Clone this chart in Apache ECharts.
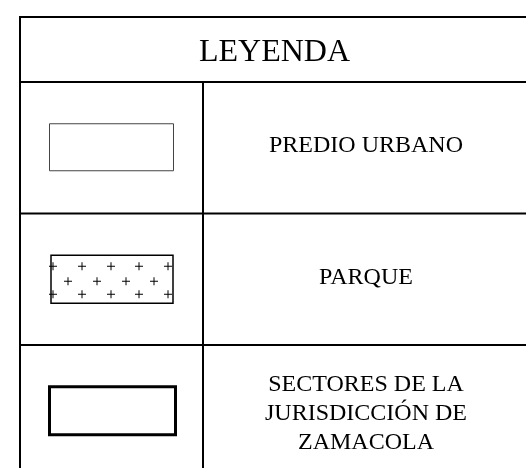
<!DOCTYPE html>
<html>
<head>
<meta charset="utf-8">
<script src="https://cdn.jsdelivr.net/npm/echarts@6/dist/echarts.min.js"></script>
<style>html,body{margin:0;padding:0;background:#fff;}#c{width:526px;height:468px;}</style>
</head>
<body>
<div id="c"></div>
<script>
var legendTitle = 'LEYENDA';
var itemLabels = ['PREDIO URBANO', 'PARQUE', 'SECTORES DE LA\nJURISDICCIÓN DE\nZAMACOLA'];
var itemSymbols = ['thin', 'crosses', 'bold'];

var chart = echarts.init(document.getElementById('c'), null, {renderer: 'canvas'});
var L = 20, R = 529, T = 17, HB = 82, RH = 131.5, DX = 203;
var FONT = '"Liberation Serif", "Times New Roman", serif';
var els = [];
var nRows = itemLabels.length;
var bottom = HB + RH * nRows;
els.push({type: 'rect', shape: {x: L, y: T, width: R - L, height: bottom - T}, style: {fill: '#fff', stroke: '#000', lineWidth: 2}});
els.push({type: 'line', shape: {x1: L, y1: HB, x2: R, y2: HB}, style: {stroke: '#000', lineWidth: 2}});
els.push({type: 'line', shape: {x1: DX, y1: HB, x2: DX, y2: bottom}, style: {stroke: '#000', lineWidth: 2}});
els.push({type: 'text', x: (L + R) / 2, y: (T + HB) / 2 + 3, style: {text: legendTitle, font: '32px ' + FONT, fill: '#000', align: 'center', verticalAlign: 'middle'}});
itemLabels.forEach(function (lab, i) {
  var top = HB + RH * i;
  var cy = top + RH / 2;
  if (i > 0) els.push({type: 'line', shape: {x1: L, y1: top, x2: R, y2: top}, style: {stroke: '#000', lineWidth: 2}});
  var multi = lab.indexOf('\n') >= 0;
  els.push({type: 'text', x: (DX + R) / 2, y: multi ? cy + 3 : cy - 2, style: {text: lab, font: '24px ' + FONT, lineHeight: 29, fill: '#000', align: 'center', verticalAlign: 'middle'}});
  var sym = itemSymbols[i];
  if (sym === 'thin') {
    els.push({type: 'rect', shape: {x: 49.5, y: cy - 24, width: 124, height: 47}, style: {fill: 'none', stroke: '#444', lineWidth: 1}});
  } else if (sym === 'crosses') {
    var bx = 51, by = cy - 24, bw = 122, bh = 48;
    els.push({type: 'rect', shape: {x: bx, y: by, width: bw, height: bh}, style: {fill: 'none', stroke: '#000', lineWidth: 1.5}});
    var rowsY = [by + 11, by + 26, by + 39];
    rowsY.forEach(function (yy, r) {
      var xs = (r % 2 === 0) ? [bx + 2, bx + 31, bx + 60, bx + 88, bx + 117] : [bx + 17, bx + 46, bx + 75, bx + 103];
      xs.forEach(function (xx) {
        els.push({type: 'line', shape: {x1: xx - 4, y1: yy, x2: xx + 4, y2: yy}, style: {stroke: '#000', lineWidth: 1}});
        els.push({type: 'line', shape: {x1: xx, y1: yy - 4, x2: xx, y2: yy + 4}, style: {stroke: '#000', lineWidth: 1}});
      });
    });
  } else {
    els.push({type: 'rect', shape: {x: 49.5, y: cy - 24, width: 126, height: 48}, style: {fill: 'none', stroke: '#000', lineWidth: 3}});
  }
});
chart.setOption({backgroundColor: '#fff', animation: false, graphic: {elements: els}});
</script>
</body>
</html>
